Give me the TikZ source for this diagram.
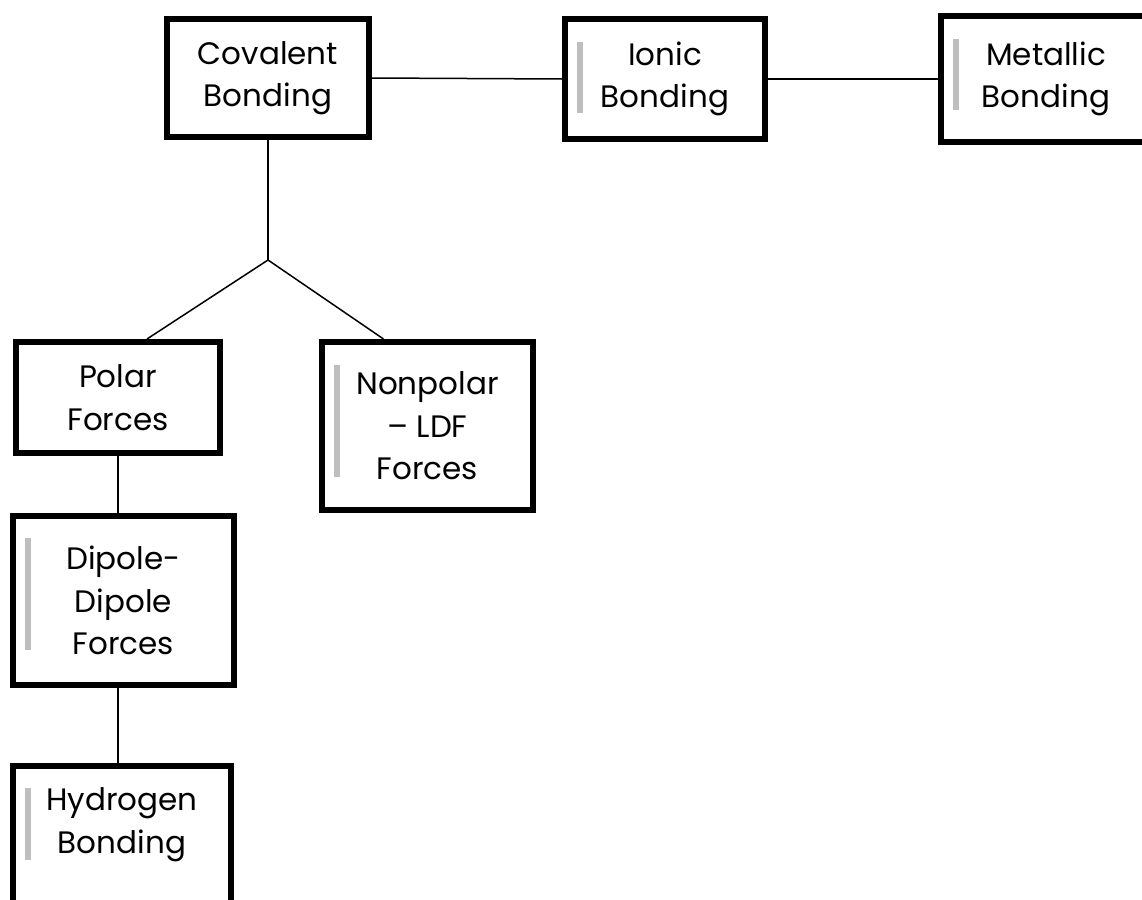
\documentclass[tikz,border=0pt]{standalone}
\usepackage{fontspec}
\setmainfont{Poppins}
\usetikzlibrary{calc}
\definecolor{barGray}{RGB}{190,190,190}
\tikzset{
    block/.style = {draw, rectangle, line width=6pt,
        align=center, inner sep=0pt,
        font=\fontsize{31}{42.5}\selectfont},
    link/.style = {draw, line width=1.5pt},
    marker/.style = {fill=barGray}
}
\begin{document}
\begin{tikzpicture}[x=1pt,y=-1pt]
                \useasboundingbox (0,0) rectangle (1142,899);
                \clip (0,0) rectangle (1142,899);
                \node[block, minimum width=202pt, minimum height=118pt] (cov) at (268,78) {Covalent\\Bonding};
                \node[block, minimum width=200pt, minimum height=119pt] (ion) at (665,79) {Ionic\\Bonding};
                \node[block, minimum width=210pt, minimum height=126pt] (met) at (1046,79) {Metallic\\Bonding};
                \node[block, minimum width=204pt, minimum height=111pt] (pol) at (118,397.5) {Polar\\Forces};
                \node[block, minimum width=211pt, minimum height=168pt] (nonpol) at (427.5,426) {Nonpolar\\– LDF\\Forces};
                \node[block, minimum width=221pt, minimum height=169pt] (dip) at (123.5,600.5) {Dipole-\\Dipole\\Forces};
                \node[block, minimum width=218pt, minimum height=164pt] (hyd) at (122,848) {Hydrogen\\Bonding\\\strut};
                % grey margin bars
                \fill[marker] (577,42) rectangle (583,113);
                \fill[marker] (953,39) rectangle (959,110);
                \fill[marker] (334,365) rectangle (340,477);
                \fill[marker] (25,538) rectangle (31,650);
                \fill[marker] (25,788) rectangle (31,860);
                \coordinate (split) at ($(cov.south)+(0,120)$);
                \draw[link] (cov.east) -- (ion.west);
                \draw[link] (ion.east) -- (met.west);
                \draw[link] (cov.south) -- (split);
                \draw[link] (split) -- ([xshift=29pt]pol.north);
                \draw[link] (split) -- ([xshift=-44pt]nonpol.north);
                \draw[link] (pol.south) -- (pol.south |- dip.north);
                \draw[link] (pol.south |- dip.south) -- (pol.south |- hyd.north);
\end{tikzpicture}
\end{document}
